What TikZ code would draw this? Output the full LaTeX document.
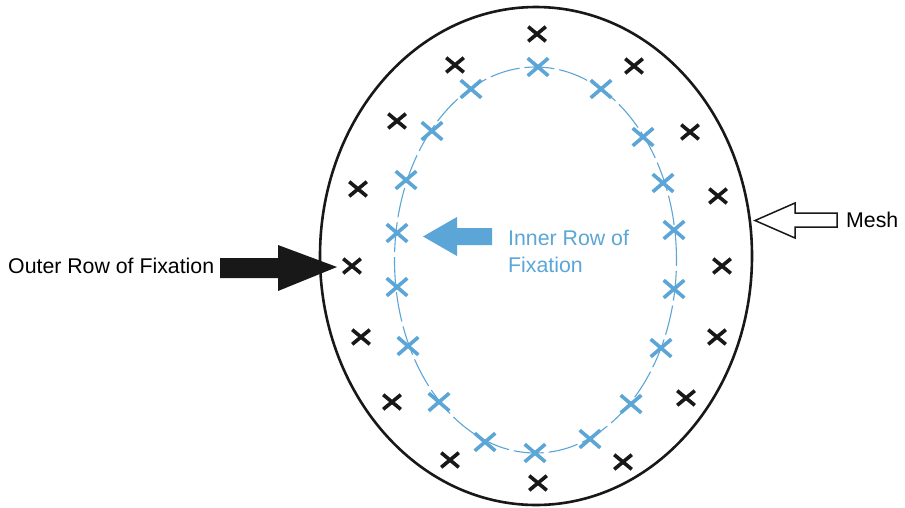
\documentclass[tikz,border=0pt]{standalone}
\usepackage{fontspec}
\setmainfont{Liberation Sans}
\usetikzlibrary{shapes.misc}
\definecolor{fixblue}{RGB}{91,166,214}
\definecolor{ink}{RGB}{24,24,24}
\begin{document}
\begin{tikzpicture}[x=1pt,y=-1pt,
  bx/.style={cross out, draw=ink, line width=3.6pt, minimum width=14pt, minimum height=11pt, inner sep=0pt},
  ux/.style={cross out, draw=fixblue, line width=3.6pt, minimum width=17pt, minimum height=14pt, inner sep=0pt},
  lbl/.style={font=\fontsize{21.3}{25}\selectfont, inner sep=0pt},
  outerring/.style={draw=ink, line width=2.6pt},
  innerring/.style={draw=fixblue, line width=1.1pt, dash pattern=on 30pt off 5pt}]
\useasboundingbox (0,0) rectangle (905,507);
\fill[white] (0,0) rectangle (905,507);
% rings
\draw[outerring] (536,256) ellipse [x radius=216pt, y radius=249pt];
\draw[innerring] (535.5,260) ellipse [x radius=141pt, y radius=193pt];
% outer crosses
\foreach \p [count=\i] in {(537,34),(634,66),(690,132),(718,196),(722,266),(717,337),(686,398),(623,462),(538,483),(450,460),(392,402),(361,337),(352,266),(358,189),(397,121),(455,65)}
  \node[bx] (b\i) at \p {};
% inner crosses
\foreach \p [count=\i] in {(538,67),(601,89),(643,137),(663,183),(674,230),(674,289),(661,348),(631,404),(590,439),(535,453),(485,442),(439,402),(408,346),(397,287),(397,233),(406,180),(432,131),(471,89)}
  \node[ux] (u\i) at \p {};
% labels
\node[lbl, anchor=base west] (outer) at (8,273) {Outer Row of Fixation};
\node[lbl, anchor=base west, text=fixblue] (inner1) at (508,245) {Inner Row of};
\node[lbl, anchor=base west, text=fixblue] (inner2) at (508,272) {Fixation};
\node[lbl, anchor=base west] (mesh) at (846,227) {Mesh};
% arrows
\fill[ink] (220,258) -- (278,258) -- (278,245) -- (337,267) -- (278,291) -- (278,278) -- (220,278) -- cycle;
\fill[fixblue] (492,228) -- (457,228) -- (457,217) -- (423,236.5) -- (457,256) -- (457,245) -- (492,245) -- cycle;
\draw[ink, line width=1.5pt, fill=white, line join=miter] (837,213) -- (795,213) -- (795,203) -- (755,220.5) -- (795,238) -- (795,227) -- (837,227) -- cycle;
\end{tikzpicture}
\end{document}
